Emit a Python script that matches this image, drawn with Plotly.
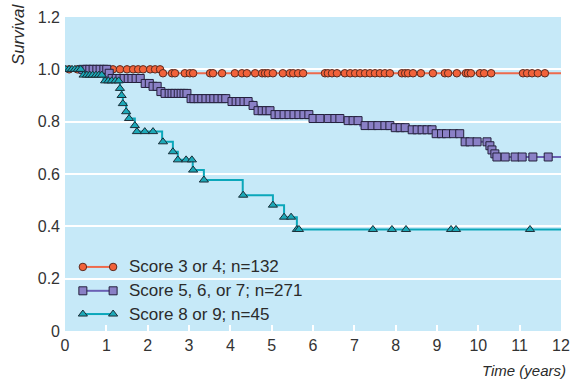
import numpy as np
import plotly.graph_objects as go

# ---------------- data ----------------
# Score 3 or 4; n=132
red_times = [0.0, 2.34]
red_surv = [1.0, 0.985]
red_cens = [0.1, 0.3, 0.5, 0.7, 0.9, 1.05, 1.16, 1.33, 1.50, 1.65, 1.77, 1.89, 2.06, 2.18, 2.30,
            2.37, 2.59, 2.66, 2.90, 3.02, 3.10, 3.51, 3.58, 3.80, 4.11, 4.28, 4.40, 4.60, 4.77,
            4.84, 4.91, 5.03, 5.27, 5.44, 5.52, 5.64, 5.76, 6.29, 6.36, 6.46, 6.58, 6.77, 6.90,
            7.02, 7.14, 7.26, 7.38, 7.50, 7.62, 7.74, 7.86, 8.15, 8.23, 8.30, 8.42, 8.61, 8.90,
            9.19, 9.27, 9.48, 9.70, 9.75, 9.82, 10.04, 10.14, 10.31, 11.08, 11.18, 11.30, 11.44,
            11.61]

# Score 5, 6, or 7; n=271
pur_times = [0.0, 1.04, 1.10, 1.89, 2.10, 2.30, 2.35, 3.02, 3.99, 4.55, 4.65, 5.01, 5.98,
             6.77, 7.14, 7.94, 8.30, 8.95, 9.61, 9.65, 10.26, 10.31, 10.38, 10.45]
pur_surv = [1.0, 0.985, 0.965, 0.946, 0.935, 0.915, 0.908, 0.888, 0.877, 0.862, 0.842, 0.827,
            0.812, 0.804, 0.785, 0.777, 0.769, 0.754, 0.735, 0.723, 0.708, 0.692, 0.677, 0.665]
pur_cens = [0.43, 0.53, 0.60, 0.68, 0.77, 0.85, 0.94, 1.01, 1.07,
            1.14, 1.24, 1.33, 1.43, 1.53, 1.62, 1.72, 1.82, 1.94, 2.04, 2.13, 2.23, 2.32,
            2.42, 2.52, 2.59, 2.66, 2.74, 2.81, 2.88, 2.95,
            3.05, 3.12, 3.22, 3.31, 3.41, 3.51, 3.60, 3.70, 3.80, 3.89,
            4.04, 4.14, 4.23, 4.33, 4.43, 4.55, 4.67, 4.77, 4.87, 4.96,
            5.08, 5.18, 5.30, 5.42, 5.54, 5.66, 5.78, 5.90,
            6.00, 6.17, 6.37, 6.53, 6.65, 6.85, 6.97, 7.09,
            7.26, 7.43, 7.57, 7.74, 7.86, 7.99, 8.11, 8.23,
            8.40, 8.52, 8.64, 8.76, 8.88, 8.98, 9.11, 9.23, 9.40, 9.55,
            9.68, 9.80, 9.97, 10.21, 10.28, 10.33, 10.40,
            10.45, 10.65, 10.89, 11.06, 11.32, 11.69]

# Score 8 or 9; n=45
teal_times = [0.0, 0.42, 0.93, 1.33, 1.37, 1.40, 1.48, 1.55, 1.69, 1.74, 2.35, 2.61, 2.73,
              3.09, 3.36, 4.30, 5.03, 5.30, 5.61]
teal_surv = [1.0, 0.978, 0.956, 0.927, 0.900, 0.869, 0.838, 0.812, 0.785, 0.762, 0.723, 0.685,
             0.654, 0.615, 0.577, 0.519, 0.481, 0.435, 0.388]
teal_cens = [0.02, 0.10, 0.17, 0.24, 0.31, 0.38, 0.45, 0.53, 0.60, 0.67, 0.75, 0.82, 0.89,
             0.97, 1.05, 1.13, 1.22, 1.30, 1.33, 1.37, 1.40, 1.48, 1.55, 1.69, 1.74, 1.93,
             2.13, 2.37, 2.61, 2.73, 2.93, 3.07, 3.10, 3.36, 4.31, 5.03, 5.30, 5.47, 5.61,
             5.66, 7.45, 7.91, 8.25, 9.34, 9.46, 11.25]

series_names = ["Score 3 or 4; n=132", "Score 5, 6, or 7; n=271", "Score 8 or 9; n=45"]
y_ticks = [0, 0.2, 0.4, 0.6, 0.8, 1.0, 1.2]
y_ticklabels = ["0", "0.2", "0.4", "0.6", "0.8", "1.0", "1.2"]
x_ticks = list(range(0, 13))
T_END = 12

# ---------------- styles ----------------
FONT = "Liberation Sans Narrow, Arial Narrow, Liberation Sans, Arial, sans-serif"
styles = [
    dict(line="#ee6a4c", fill="#f2623a", edge="#5b2a1f", symbol="circle", size=7.5),
    dict(line="#6a60b4", fill="#8a80c6", edge="#24203c", symbol="square", size=8),
    dict(line="#0ba7ba", fill="#1ca9b8", edge="#1a2e38", symbol="triangle-up", size=8),
]


def step_value(times, surv, t):
    idx = np.searchsorted(np.asarray(times), t, side="right") - 1
    return np.asarray(surv)[idx]


fig = go.Figure()
data = [(red_times, red_surv, red_cens), (pur_times, pur_surv, pur_cens),
        (teal_times, teal_surv, teal_cens)]

for (times, surv, cens), st in zip(data, styles):
    xs = list(times) + [T_END]
    ys = list(surv) + [surv[-1]]
    fig.add_trace(go.Scatter(x=xs, y=ys, mode="lines", line=dict(color=st["line"], width=2, shape="hv"),
                             showlegend=False, hoverinfo="skip"))
    fig.add_trace(go.Scatter(x=cens, y=[step_value(times, surv, c) for c in cens], mode="markers",
                             marker=dict(symbol=st["symbol"], size=st["size"], color=st["fill"],
                                         line=dict(color=st["edge"], width=1)),
                             showlegend=False, hoverinfo="skip"))

# custom legend (line with a marker at both ends), on an overlay axis in plot fractions
leg_y = [0.204, 0.128, 0.054]
for name, st, ly in zip(series_names, styles, leg_y):
    fig.add_trace(go.Scatter(x=[0.036, 0.097], y=[ly, ly], xaxis="x2", yaxis="y2",
                             mode="lines+markers",
                             line=dict(color=st["line"], width=2),
                             marker=dict(symbol=st["symbol"], size=st["size"], color=st["fill"],
                                         line=dict(color=st["edge"], width=1)),
                             showlegend=False, hoverinfo="skip"))
    fig.add_annotation(x=0.125, y=ly, xref="x2", yref="y2", text=name, showarrow=False,
                       xanchor="left", yanchor="middle",
                       font=dict(family=FONT, size=17, color="#2b2b2b"))

fig.add_annotation(text="<i>Survival</i>", textangle=-90, xref="paper", yref="paper",
                   x=-0.095, y=1.05, xanchor="center", yanchor="top", showarrow=False,
                   font=dict(family=FONT, size=17, color="#2b2b2b"))
fig.add_annotation(text="<i>Time (years)</i>", xref="paper", yref="paper",
                   x=1.014, y=-0.127, xanchor="right", yanchor="middle", showarrow=False,
                   font=dict(family=FONT, size=15, color="#2b2b2b"))

fig.update_layout(
    width=571, height=381,
    margin=dict(l=65, r=10, t=17, b=50, autoexpand=False),
    paper_bgcolor="white", plot_bgcolor="#c6e9f8",
    font=dict(family=FONT, size=16, color="#333333"),
    xaxis=dict(range=[0, 12], tickvals=x_ticks, ticks="inside", ticklen=6, tickwidth=2,
               tickcolor="white", showgrid=False, zeroline=False, showline=False,
               automargin=False, ticklabelstandoff=3,
               tickfont=dict(family=FONT, size=16, color="#333333")),
    yaxis=dict(range=[0, 1.2], tickvals=y_ticks, ticktext=y_ticklabels, showgrid=True,
               gridcolor="white", gridwidth=2, zeroline=False, showline=False, ticks="",
               automargin=False, ticklabelstandoff=4,
               tickfont=dict(family=FONT, size=16, color="#333333")),
    xaxis2=dict(domain=[0, 1], range=[0, 1], overlaying="x", visible=False, fixedrange=True),
    yaxis2=dict(domain=[0, 1], range=[0, 1], overlaying="y", visible=False, fixedrange=True),
)

fig.write_html(
    "out.html",
    config={"displayModeBar": False},
    post_script="document.body.style.margin='0px';document.body.style.overflow='hidden';",
)
